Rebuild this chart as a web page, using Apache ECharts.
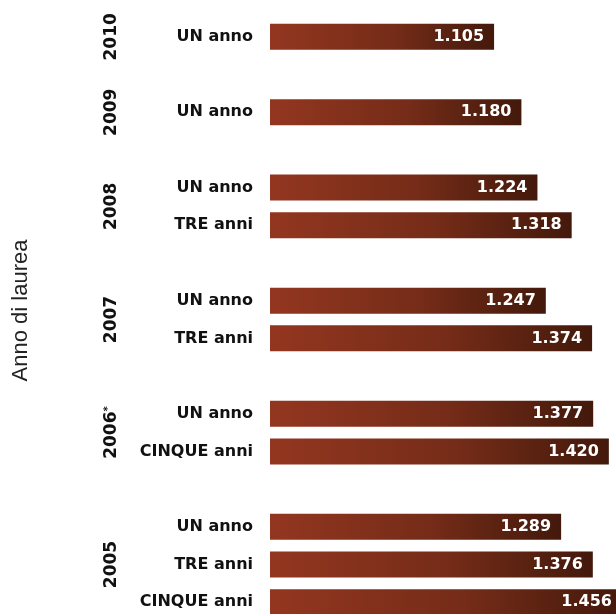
<!DOCTYPE html>
<html>
<head>
<meta charset="utf-8">
<script src="https://cdn.jsdelivr.net/npm/echarts@6/dist/echarts.min.js"></script>
<style>html,body{margin:0;padding:0;background:#fff}#c{width:616px;height:614px}</style>
</head>
<body>
<div id="c"></div>
<script>
// Data
var years = ['2010', '2009', '2008', '2007', '2006*', '2005'];
var groupLabels = [
  ['UN anno'],
  ['UN anno'],
  ['UN anno', 'TRE anni'],
  ['UN anno', 'TRE anni'],
  ['UN anno', 'CINQUE anni'],
  ['UN anno', 'TRE anni', 'CINQUE anni']
];
var groupValues = [
  [1.105],
  [1.180],
  [1.224, 1.318],
  [1.247, 1.374],
  [1.377, 1.420],
  [1.289, 1.376, 1.456]
];
var axisTitle = 'Anno di laurea';

// Build category slots (empty slot between groups)
var cats = [], vals = [], yearCenter = {};
years.forEach(function (y, gi) {
  if (gi > 0) { cats.push('gap' + gi); vals.push(null); }
  var start = cats.length;
  groupLabels[gi].forEach(function (l, j) {
    cats.push(l + '#' + gi + '_' + j);
    vals.push(groupValues[gi][j]);
  });
  var end = cats.length;
  yearCenter[((start + end) / 2).toFixed(1)] = y;
});
var nSlots = cats.length;

var grad = new echarts.graphic.LinearGradient(0, 0, 1, 0, [
  { offset: 0, color: '#933620' },
  { offset: 0.55, color: '#752c18' },
  { offset: 1, color: '#43190b' }
]);

var chart = echarts.init(document.getElementById('c'), null, { renderer: 'canvas' });
chart.setOption({
  animation: false,
  grid: { left: 270, right: -22, top: 18, bottom: -7, containLabel: false, outerBoundsMode: 'none' },
  xAxis: { type: 'value', min: 0.49, max: 1.5, show: false },
  yAxis: [
    {
      type: 'category', data: cats, inverse: true,
      axisLine: { show: false }, axisTick: { show: false }, splitLine: { show: false },
      axisLabel: {
        margin: 17, color: '#111', fontWeight: 'bold', fontSize: 16,
        fontFamily: 'DejaVu Sans',
        formatter: function (v) { return v.indexOf('gap') === 0 ? '' : v.split('#')[0]; }
      }
    },
    {
      type: 'value', min: 0, max: nSlots, interval: 0.5, inverse: true, position: 'left',
      axisLine: { show: false }, axisTick: { show: false }, splitLine: { show: false },
      name: axisTitle, nameLocation: 'middle', nameRotate: 90, nameGap: 238,
      nameTextStyle: { fontSize: 22, color: '#222', fontFamily: 'Liberation Sans', padding: [0, 0, 0, 18] },
      axisLabel: {
        margin: 150, rotate: 90, color: '#111', fontWeight: 'bold', fontSize: 17,
        fontFamily: 'DejaVu Sans', showMinLabel: true, showMaxLabel: true,
        formatter: function (v) {
          var y = yearCenter[Number(v).toFixed(1)];
          if (!y) return '';
          if (y.indexOf('*') >= 0) return '{y|' + y.replace('*', '') + '}{s|*}';
          return '{y|' + y + '}';
        },
        rich: {
          y: { fontSize: 17, fontWeight: 'bold', fontFamily: 'DejaVu Sans', color: '#111' },
          s: { fontSize: 10, fontWeight: 'bold', fontFamily: 'DejaVu Sans', color: '#111', verticalAlign: 'top', padding: [0, 0, 6, 0] }
        }
      }
    }
  ],
  series: [{
    type: 'bar', data: vals, yAxisIndex: 0, barWidth: 26,
    itemStyle: { color: grad },
    label: {
      show: true, position: 'insideRight', distance: 10, color: '#fff',
      fontWeight: 'bold', fontSize: 16, fontFamily: 'DejaVu Sans',
      formatter: function (p) { return p.value == null ? '' : p.value.toFixed(3); }
    }
  }]
});
</script>
</body>
</html>
